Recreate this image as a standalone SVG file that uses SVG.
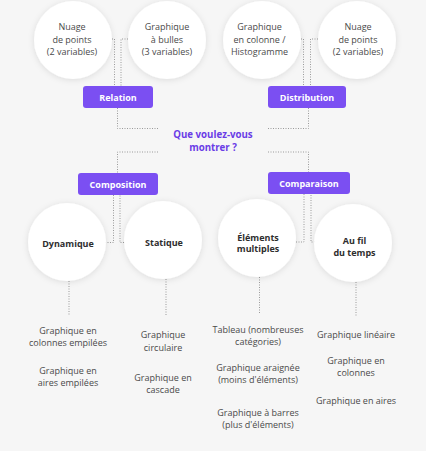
<svg xmlns="http://www.w3.org/2000/svg" width="426" height="451" viewBox="0 0 426 451">
<defs>
<filter id="sh" x="-30%" y="-30%" width="160%" height="160%">
<feDropShadow dx="0" dy="1" stdDeviation="3" flood-color="#000" flood-opacity="0.11"/>
</filter>
<style>
.c{fill:#fff;filter:url(#sh)}
.t{font-family:"Open Sans","Noto Sans",sans-serif;font-size:9px;fill:#4a4a4a;text-anchor:middle}
.b{font-family:"Open Sans","Noto Sans",sans-serif;font-size:9px;font-weight:bold;fill:#2e2e2e;text-anchor:middle}
.box{fill:#7b4ff2}
.bt{font-family:"Open Sans","Noto Sans",sans-serif;font-size:9px;font-weight:bold;fill:#fff;text-anchor:middle}
.q{font-family:"Open Sans","Noto Sans",sans-serif;font-size:9.7px;font-weight:bold;fill:#6a3de6;text-anchor:middle}
.d{fill:none;stroke:#9a9a9a;stroke-width:1;stroke-dasharray:1 1.5}
</style>
</defs>
<rect width="426" height="451" fill="#f6f6f6"/>
<g id="connectors">
<path class="d" d="M112 39H114.5V86"/>
<path class="d" d="M128 39H121V86"/>
<path class="d" d="M117.5 108V128.5H158"/>
<path class="d" d="M301 39H303.5V86"/>
<path class="d" d="M318 39H310.5V86"/>
<path class="d" d="M308.5 108V128.5H268"/>
<path class="d" d="M158 152H117.5V173"/>
<path class="d" d="M268 152H308.5V172"/>
<path class="d" d="M105 242.5H113.5V195"/>
<path class="d" d="M124 242.5H120V195"/>
<path class="d" d="M296 242H304V194"/>
<path class="d" d="M315 242H311V194"/>
<path class="d" d="M69 281V315"/>
<path class="d" d="M166 279V315"/>
<path class="d" d="M259.5 277V313"/>
<path class="d" d="M356 282V317"/>
</g>
<g id="title"><text class="q" x="213" y="138">Que voulez-vous</text><text class="q" x="213" y="150.5">montrer ?</text></g>
<g id="n1"><circle class="c" cx="73" cy="40" r="39"/><text class="t" x="72" y="30">Nuage</text><text class="t" x="72" y="42.5">de points</text><text class="t" x="72" y="55">(2 variables)</text></g>
<g id="n2"><circle class="c" cx="167" cy="40" r="39"/><text class="t" x="167" y="30">Graphique</text><text class="t" x="167" y="42.5">à bulles</text><text class="t" x="167" y="55">(3 variables)</text></g>
<g id="n3"><circle class="c" cx="262" cy="40" r="39"/><text class="t" x="259.5" y="30">Graphique</text><text class="t" x="259.5" y="42.5">en colonne /</text><text class="t" x="259.5" y="55">Histogramme</text></g>
<g id="n4"><circle class="c" cx="357" cy="40" r="39"/><text class="t" x="358" y="30">Nuage</text><text class="t" x="358" y="42.5">de points</text><text class="t" x="358" y="55">(2 variables)</text></g>
<g id="relation"><rect class="box" x="83" y="86" width="70" height="22" rx="3"/><text class="bt" x="118" y="100.5">Relation</text></g>
<g id="distribution"><rect class="box" x="268" y="86" width="78" height="22" rx="3"/><text class="bt" x="307" y="100.5">Distribution</text></g>
<g id="composition"><rect class="box" x="78" y="173" width="80" height="22" rx="3"/><text class="bt" x="118" y="187.5">Composition</text></g>
<g id="comparaison"><rect class="box" x="268" y="172" width="82" height="22" rx="3"/><text class="bt" x="309" y="186.5">Comparaison</text></g>
<g id="dynamique"><circle class="c" cx="67" cy="242" r="39"/><text class="b" x="68" y="247">Dynamique</text></g>
<g id="statique"><circle class="c" cx="163" cy="240" r="39"/><text class="b" x="164" y="246">Statique</text></g>
<g id="elements"><circle class="c" cx="257" cy="238" r="39"/><text class="b" x="258" y="240.5">Éléments</text><text class="b" x="258" y="252">multiples</text></g>
<g id="temps"><circle class="c" cx="353" cy="243" r="39"/><text class="b" x="354.5" y="244">Au fil</text><text class="b" x="354.5" y="256">du temps</text></g>
<g id="list1"><text class="t" x="68" y="333.5">Graphique en</text><text class="t" x="68" y="345.5">colonnes empilées</text><text class="t" x="68" y="373.5">Graphique en</text><text class="t" x="68" y="385.5">aires empilées</text></g>
<g id="list2"><text class="t" x="163" y="338">Graphique</text><text class="t" x="163" y="350.5">circulaire</text><text class="t" x="163" y="381">Graphique en</text><text class="t" x="163" y="393">cascade</text></g>
<g id="list3"><text class="t" x="258" y="333">Tableau (nombreuses</text><text class="t" x="258" y="345">catégories)</text><text class="t" x="258" y="371">Graphique araignée</text><text class="t" x="258" y="383">(moins d'éléments)</text><text class="t" x="258" y="415.5">Graphique à barres</text><text class="t" x="258" y="428">(plus d'éléments)</text></g>
<g id="list4"><text class="t" x="356" y="338">Graphique linéaire</text><text class="t" x="356" y="364">Graphique en</text><text class="t" x="356" y="376">colonnes</text><text class="t" x="356" y="403.5">Graphique en aires</text></g>
</svg>
